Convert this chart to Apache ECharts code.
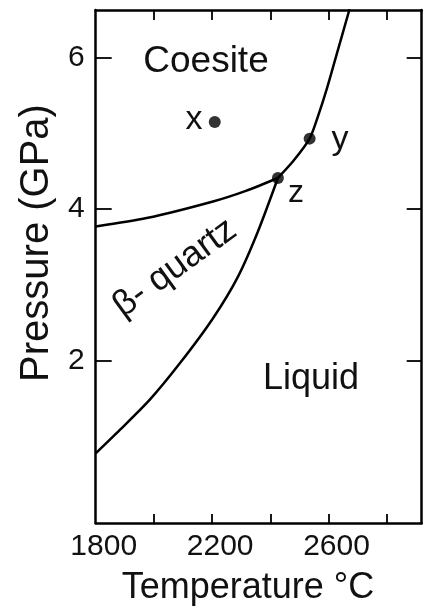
<!DOCTYPE html>
<html>
<head>
<meta charset="utf-8">
<script src="https://cdn.jsdelivr.net/npm/echarts@6/dist/echarts.min.js"></script>
<style>
  html, body { margin: 0; padding: 0; background: #fff; }
  #chart { width: 430px; height: 609px; }
</style>
</head>
<body>
<div id="chart"></div>
<script>
// Phase boundaries of SiO2 (temperature in °C, pressure in GPa)
const coesiteQuartzT = [1800, 1975, 2203, 2316, 2426];
const coesiteQuartzP = [3.77, 3.88, 4.10, 4.24, 4.41];

const coesiteLiquidT = [2426, 2478, 2535, 2565, 2595, 2632, 2672];
const coesiteLiquidP = [4.41, 4.63, 4.93, 5.24, 5.60, 6.10, 6.64];

const quartzLiquidT = [1800, 1883, 1986, 2089, 2202, 2288, 2357, 2426];
const quartzLiquidP = [0.77, 1.08, 1.48, 1.96, 2.55, 3.10, 3.70, 4.41];

// Marked states
const pointNames = ['x', 'y', 'z'];
const pointT = [2209, 2535, 2426];
const pointP = [5.15, 4.93, 4.41];

// Axis ticks and labels
const tempTicks = [2000, 2200, 2400, 2600, 2800];
const tempLabels = [1800, 2200, 2600];
const pressureTicks = [2, 4, 6];

const FONT = "'Liberation Sans', Arial, Helvetica, sans-serif";
const pairs = (xs, ys) => xs.map((v, i) => [v, ys[i]]);

const chart = echarts.init(document.getElementById('chart'), null, { renderer: 'canvas' });

const lineStyle = { color: '#000', width: 2.5 };
const frameLine = { show: true, onZero: false, lineStyle: { color: '#000', width: 2.5 } };

const boundary = (data) => ({
  type: 'line',
  data: data,
  smooth: 0.25,
  symbol: 'none',
  lineStyle: lineStyle,
  silent: true,
  animation: false,
  z: 3
});

chart.setOption({
  animation: false,
  grid: { left: 95.7, right: 8.3, top: 10, bottom: 86, containLabel: false },
  xAxis: [
    {
      type: 'value', min: 1800, max: 2920, interval: 200, position: 'bottom',
      axisLine: frameLine,
      axisTick: { show: true, inside: true, length: 9, customValues: tempTicks, lineStyle: { color: '#000', width: 1.8 } },
      axisLabel: { show: true, customValues: tempLabels, margin: 9, fontFamily: FONT, fontSize: 30, color: '#111',
        padding: [0, 0, 0, 16], formatter: (v) => String(v) },
      splitLine: { show: false }
    },
    {
      type: 'value', min: 1800, max: 2920, interval: 200, position: 'top',
      axisLine: frameLine,
      axisTick: { show: true, inside: true, length: 10, customValues: tempTicks, lineStyle: { color: '#000', width: 1.8 } },
      axisLabel: { show: false },
      splitLine: { show: false }
    }
  ],
  yAxis: [
    {
      type: 'value', min: -0.15, max: 6.63, position: 'left',
      axisLine: frameLine,
      axisTick: { show: true, inside: true, length: 16, customValues: pressureTicks, lineStyle: { color: '#000', width: 1.8 } },
      axisLabel: { show: true, customValues: pressureTicks, margin: 11, fontFamily: FONT, fontSize: 30, color: '#111',
        formatter: (v) => String(v) },
      splitLine: { show: false }
    },
    {
      type: 'value', min: -0.15, max: 6.63, position: 'right',
      axisLine: frameLine,
      axisTick: { show: true, inside: true, length: 15, customValues: pressureTicks, lineStyle: { color: '#000', width: 1.8 } },
      axisLabel: { show: false },
      splitLine: { show: false }
    }
  ],
  series: [
    boundary(pairs(coesiteQuartzT, coesiteQuartzP)),
    boundary(pairs(coesiteLiquidT, coesiteLiquidP)),
    boundary(pairs(quartzLiquidT, quartzLiquidP)),
    {
      type: 'scatter',
      data: pointNames.map((n, i) => ({ name: n, value: [pointT[i], pointP[i]] })),
      symbol: 'circle',
      symbolSize: 12,
      itemStyle: { color: '#000' },
      silent: true,
      z: 5
    }
  ],
  graphic: [
    { type: 'text', x: 206, y: 62, silent: true,
      style: { text: 'Coesite', font: '37px ' + FONT, fill: '#111', textAlign: 'center', textVerticalAlign: 'middle' } },
    { type: 'text', x: 311, y: 379, silent: true,
      style: { text: 'Liquid', font: '36px ' + FONT, fill: '#111', textAlign: 'center', textVerticalAlign: 'middle' } },
    { type: 'text', x: 175, y: 268, rotation: 36 * Math.PI / 180, silent: true,
      style: { text: 'β- quartz', font: '36px ' + FONT, fill: '#111', textAlign: 'center', textVerticalAlign: 'middle' } },
    { type: 'text', x: 194, y: 120, silent: true,
      style: { text: 'x', font: '34px ' + FONT, fill: '#111', textAlign: 'center', textVerticalAlign: 'middle' } },
    { type: 'text', x: 340, y: 140, silent: true,
      style: { text: 'y', font: '34px ' + FONT, fill: '#111', textAlign: 'center', textVerticalAlign: 'middle' } },
    { type: 'text', x: 296, y: 193, silent: true,
      style: { text: 'z', font: '32px ' + FONT, fill: '#111', textAlign: 'center', textVerticalAlign: 'middle' } },
    { type: 'text', x: 37, y: 243, rotation: Math.PI / 2, silent: true,
      style: { text: 'Pressure (GPa)', font: '40px ' + FONT, fill: '#111', textAlign: 'center', textVerticalAlign: 'middle' } },
    { type: 'text', x: 248, y: 588, silent: true,
      style: { text: 'Temperature °C', font: '36px ' + FONT, fill: '#111', textAlign: 'center', textVerticalAlign: 'middle' } }
  ]
});
</script>
</body>
</html>
